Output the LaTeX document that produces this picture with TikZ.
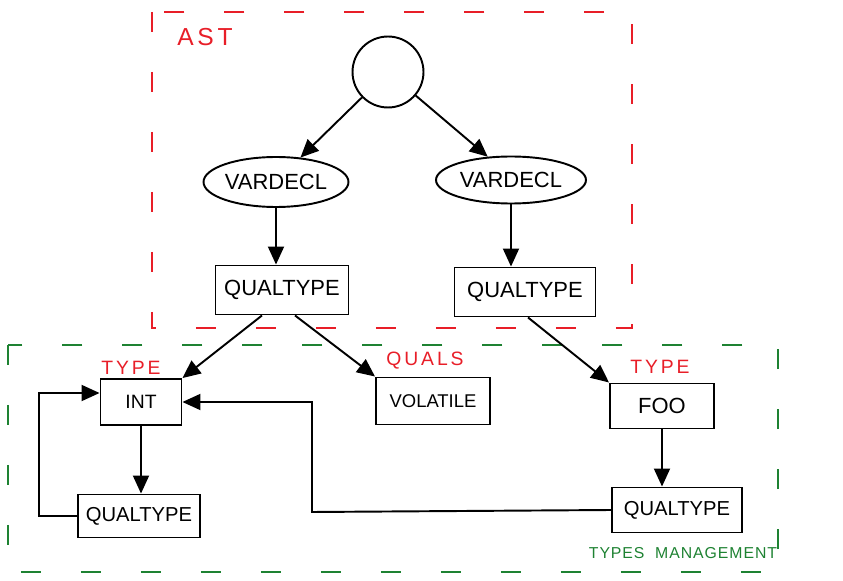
\documentclass[tikz,border=0pt]{standalone}
\usepackage{fontspec}
\setmainfont{Liberation Sans}
\newfontfamily\tagfont[LetterSpace=15]{Liberation Sans}
\newfontfamily\mgmtfont[LetterSpace=6]{Liberation Sans}
\usetikzlibrary{arrows.meta,shapes.geometric}
\definecolor{astred}{RGB}{232,30,40}
\definecolor{mgmtgreen}{RGB}{30,130,50}
\begin{document}
\begin{tikzpicture}[x=0.02cm,y=-0.02cm,
    box/.style={draw,line width=1.1pt,inner sep=0pt,font=\fontsize{12.5}{14}\selectfont},
    decl/.style={ellipse,draw,line width=1.1pt,inner sep=0pt,font=\fontsize{12.5}{14}\selectfont},
    arr/.style={line width=1.1pt,-{Triangle[length=0.36cm,width=0.32cm]}},
    frame/.style={line width=1.4pt,dash pattern=on 0.4cm off 0.8cm},
    tag/.style={font=\tagfont\fontsize{11}{13}\selectfont}]
  \useasboundingbox (0,0) rectangle (843,581);
  \draw[frame,astred] (152,12) rectangle (632,328);
  \draw[frame,mgmtgreen] (8,345) rectangle (778,572);
  \node[tag,text=astred,font=\tagfont\fontsize{14}{16}\selectfont] (asttag) at (205,37) {AST};
  \node[text=mgmtgreen,font=\mgmtfont\fontsize{9}{11}\selectfont] (mgmttag) at (683,553) {TYPES\ \ MANAGEMENT};
  \node[circle,draw,line width=1.1pt,minimum size=1.42cm] (root) at (388,72) {};
  \node[decl,minimum width=2.9cm,minimum height=1cm] (vdl) at (276,182) {VARDECL};
  \node[decl,minimum width=3cm,minimum height=0.94cm] (vdr) at (511,180) {VARDECL};
  \node[box,minimum width=2.66cm,minimum height=0.98cm] (qtl) at (282,290) {QUALTYPE};
  \node[box,minimum width=2.82cm,minimum height=0.98cm] (qtr) at (525,292) {QUALTYPE};
  \node[box,minimum width=1.62cm,minimum height=0.92cm,font=\fontsize{11}{13}\selectfont] (int) at (141,402) {INT};
  \node[box,minimum width=2.28cm,minimum height=0.94cm,font=\fontsize{10.5}{12}\selectfont] (vol) at (433,401) {VOLATILE};
  \node[box,minimum width=2.08cm,minimum height=0.9cm] (foo) at (662,406) {FOO};
  \node[box,minimum width=2.44cm,minimum height=0.86cm,font=\fontsize{11.5}{13}\selectfont] (qtb) at (139,516) {QUALTYPE};
  \node[box,minimum width=2.6cm,minimum height=0.9cm,font=\fontsize{11.5}{13}\selectfont] (qtm) at (677,510) {QUALTYPE};
  \node[tag,text=astred] (inttag) at (131,368) {TYPE};
  \node[tag,text=astred] (voltag) at (425,361) {QUALS};
  \node[tag,text=astred] (footag) at (660,367) {TYPE};
  \coordinate (bend) at (312,512);
  \draw[arr] (root) -- (vdl.45);
  \draw[arr] (root) -- (vdr.135);
  \draw[arr] (vdl.south) -- (vdl.south |- qtl.north);
  \draw[arr] (vdr.south) -- (vdr.south |- qtr.north);
  \draw[arr] ([xshift=-0.4cm]qtl.south) -- (int.north east);
  \draw[arr] ([xshift=0.26cm]qtl.south) -- (vol.north west);
  \draw[arr] ([xshift=0.06cm]qtr.south) -- (foo.north west);
  \draw[arr] (int.south) -- (int.south |- qtb.north);
  \draw[arr] (foo.south) -- (foo.south |- qtm.north);
  \draw[arr] (qtb.west) -- ++(-38,0) |- ([yshift=0.18cm]int.west);
  \draw[arr] (qtm.west) -- (bend) |- (int.east);
\end{tikzpicture}
\end{document}
